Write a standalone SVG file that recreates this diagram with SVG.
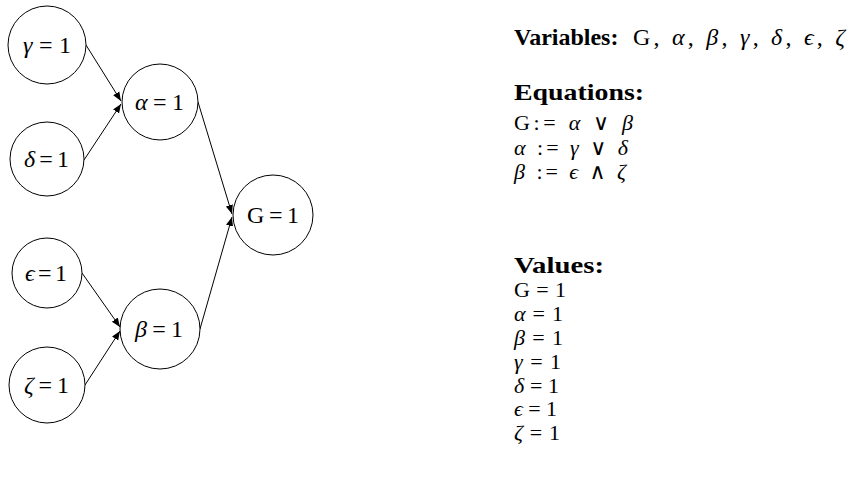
<svg xmlns="http://www.w3.org/2000/svg" width="860" height="484" viewBox="0 0 860 484">
<style>
.node circle{fill:#fff;stroke:#000;stroke-width:1}
.lbl{font-family:"Liberation Serif","DejaVu Serif",serif;font-size:24px;fill:#000}
.sm{font-size:22px}
.g{font-style:italic}
.edge{stroke:#000;stroke-width:1;fill:none;marker-end:url(#ah)}
.b{font-weight:bold}
</style>
<defs>
<marker id="ah" viewBox="0 0 10 10" refX="10" refY="5" markerWidth="9" markerHeight="9" markerUnits="userSpaceOnUse" orient="auto">
<path d="M0,1 L10,5 L0,9 z" fill="#000"/>
</marker>
</defs>
<rect width="860" height="484" fill="#fff"/>
<g id="connectors">
<line class="edge" x1="86" y1="45" x2="121" y2="101"/>
<line class="edge" x1="84" y1="160" x2="121" y2="104"/>
<line class="edge" x1="198" y1="102" x2="232" y2="214"/>
<line class="edge" x1="200" y1="329" x2="232" y2="217"/>
<line class="edge" x1="82" y1="273" x2="120" y2="327"/>
<line class="edge" x1="85" y1="385" x2="120" y2="331"/>
</g>
<g id="n_gamma" class="node"><circle cx="47" cy="45" r="39"/><text class="lbl" x="23" y="53" textLength="48" lengthAdjust="spacing"><tspan class="g">γ</tspan>=1</text></g>
<g id="n_alpha" class="node"><circle cx="160" cy="102" r="38"/><text class="lbl" x="135" y="110" textLength="49" lengthAdjust="spacing"><tspan class="g">α</tspan>=1</text></g>
<g id="n_delta" class="node"><circle cx="47" cy="159" r="37"/><text class="lbl" x="24" y="167" textLength="45" lengthAdjust="spacing"><tspan class="g">δ</tspan>=1</text></g>
<g id="n_G" class="node"><circle cx="273" cy="215" r="40"/><text class="lbl" x="247" y="223" textLength="52" lengthAdjust="spacing">G=1</text></g>
<g id="n_epsilon" class="node"><circle cx="47" cy="273" r="35"/><text class="lbl" x="25" y="281" textLength="42" lengthAdjust="spacing"><tspan class="g">ϵ</tspan>=1</text></g>
<g id="n_beta" class="node"><circle cx="160" cy="329" r="40"/><text class="lbl" x="135" y="337" textLength="48" lengthAdjust="spacing"><tspan class="g">β</tspan>=1</text></g>
<g id="n_zeta" class="node"><circle cx="47" cy="385" r="38"/><text class="lbl" x="24" y="393" textLength="45" lengthAdjust="spacing"><tspan class="g">ζ</tspan>=1</text></g>
<g id="legend" class="lbl">
<text x="514" y="45" class="b">Variables:</text>
<text x="633" y="45" textLength="212" lengthAdjust="spacing">G, <tspan class="g">α</tspan>, <tspan class="g">β</tspan>, <tspan class="g">γ</tspan>, <tspan class="g">δ</tspan>, <tspan class="g">ϵ</tspan>, <tspan class="g">ζ</tspan></text>
<text x="514" y="100" class="b" textLength="130" lengthAdjust="spacingAndGlyphs">Equations:</text>
<text x="514" y="130" class="sm" textLength="119" lengthAdjust="spacing">G:= <tspan class="g">α</tspan> ∨ <tspan class="g">β</tspan></text>
<text x="514" y="155" class="sm" textLength="114" lengthAdjust="spacing"><tspan class="g">α</tspan> := <tspan class="g">γ</tspan> ∨ <tspan class="g">δ</tspan></text>
<text x="514" y="179" class="sm" textLength="112" lengthAdjust="spacing"><tspan class="g">β</tspan> := <tspan class="g">ϵ</tspan> ∧ <tspan class="g">ζ</tspan></text>
<text x="514" y="273" class="b" textLength="90" lengthAdjust="spacingAndGlyphs">Values:</text>
<text x="514" y="297" class="sm" textLength="52" lengthAdjust="spacing">G=1</text>
<text x="514" y="321" class="sm" textLength="49" lengthAdjust="spacing"><tspan class="g">α</tspan>=1</text>
<text x="514" y="345" class="sm" textLength="49" lengthAdjust="spacing"><tspan class="g">β</tspan>=1</text>
<text x="514" y="369" class="sm" textLength="47" lengthAdjust="spacing"><tspan class="g">γ</tspan>=1</text>
<text x="514" y="393" class="sm" textLength="45" lengthAdjust="spacing"><tspan class="g">δ</tspan>=1</text>
<text x="514" y="416" class="sm" textLength="43" lengthAdjust="spacing"><tspan class="g">ϵ</tspan>=1</text>
<text x="514" y="440" class="sm" textLength="46" lengthAdjust="spacing"><tspan class="g">ζ</tspan>=1</text>
</g>
</svg>
